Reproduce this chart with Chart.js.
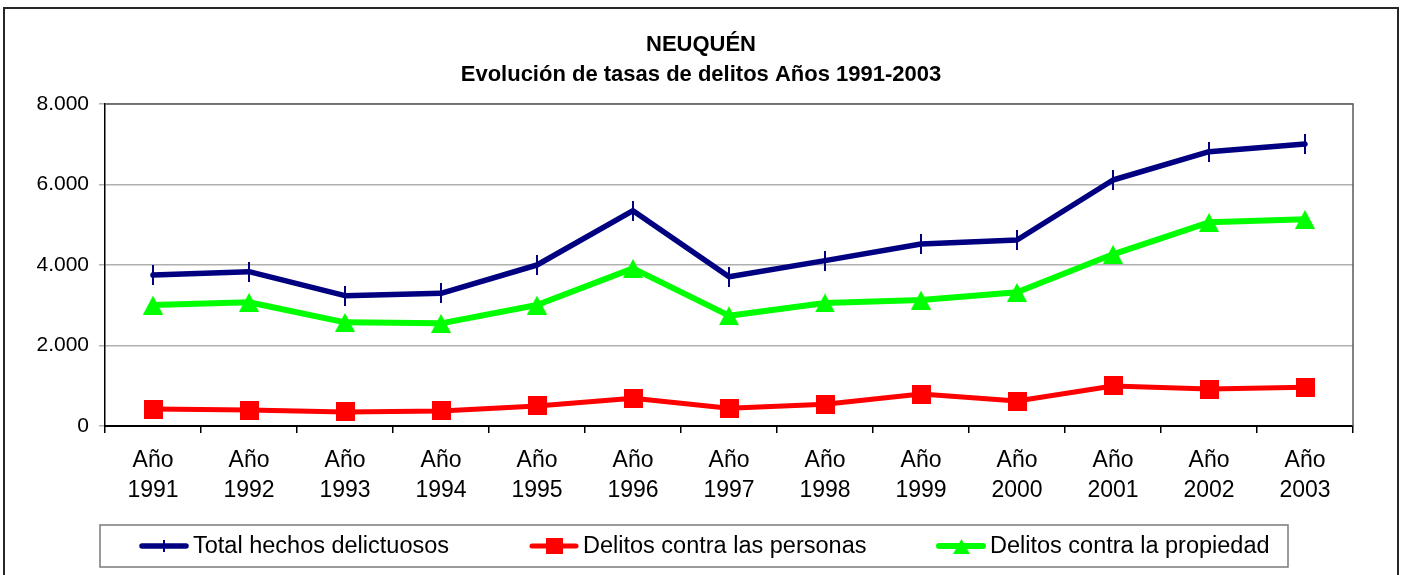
<!DOCTYPE html>
<html lang="es">
<head>
<meta charset="utf-8">
<title>Neuquén – Evolución de tasas de delitos</title>
<script src="https://cdn.jsdelivr.net/npm/chart.js@4.4.1/dist/chart.umd.min.js"></script>
<style>
  html, body { margin: 0; padding: 0; background: #ffffff; }
  #wrap { width: 1401px; height: 575px; position: relative; }
</style>
</head>
<body>
<div id="wrap"><canvas id="chart" width="1401" height="575"></canvas></div>
<script>
// ---- data ----
const years = ['1991', '1992', '1993', '1994', '1995', '1996', '1997', '1998', '1999', '2000', '2001', '2002', '2003'];
const categoryLabels = years.map(y => ['Año', y]);
const totalHechos      = [3750, 3834, 3238, 3296, 4000, 5350, 3710, 4108, 4522, 4621, 6112, 6816, 7006];
const delitosPersonas  = [422, 397, 348, 373, 497, 688, 439, 539, 795, 621, 994, 919, 961];
const delitosPropiedad = [3006, 3073, 2576, 2551, 3006, 3917, 2741, 3056, 3130, 3321, 4265, 5060, 5135];
const yTickLabels = ['0', '2.000', '4.000', '6.000', '8.000'];
const seriesNames = ['Total hechos delictuosos', 'Delitos contra las personas', 'Delitos contra la propiedad'];
const titleLines = ['NEUQUÉN', 'Evolución de tasas de delitos Años 1991-2003'];

const FONT = '"Liberation Sans", Arial, Helvetica, sans-serif';
const NAVY = '#000080', RED = '#ff0000', GREEN = '#00ff00';

// ---- marker images ----
function makeMarker(kind, color, w, h) {
  const c = document.createElement('canvas');
  c.width = w; c.height = h;
  const g = c.getContext('2d');
  g.fillStyle = color;
  if (kind === 'tick') {
    g.fillRect((w - 2) / 2, 0, 2, h);
  } else if (kind === 'square') {
    g.fillRect(0, 0, w, h);
  } else if (kind === 'triangle') {
    g.beginPath();
    g.moveTo(w / 2, 0);
    g.lineTo(w, h);
    g.lineTo(0, h);
    g.closePath();
    g.fill();
  }
  return c;
}

const markers = [
  makeMarker('tick', NAVY, 4, 20),
  makeMarker('square', RED, 19, 19),
  makeMarker('triangle', GREEN, 20, 19)
];
const legendMarkers = [
  makeMarker('tick', NAVY, 4, 12),
  makeMarker('square', RED, 17, 16),
  makeMarker('triangle', GREEN, 17, 15)
];

// ---- plugins: background/frame, title, plot border, legend ----
const framePlugin = {
  id: 'frame',
  beforeDraw(chart) {
    const ctx = chart.ctx;
    ctx.save();
    ctx.fillStyle = '#ffffff';
    ctx.fillRect(0, 0, chart.width, chart.height);
    ctx.strokeStyle = '#262626';
    ctx.lineWidth = 2;
    ctx.strokeRect(4, 8, 1394, 620);
    ctx.restore();
  },
  beforeDatasetsDraw(chart) {
    const { ctx, chartArea: a } = chart;
    ctx.save();
    ctx.strokeStyle = '#5a5a5a';
    ctx.lineWidth = 1.5;
    ctx.beginPath();
    ctx.moveTo(a.left, a.top);
    ctx.lineTo(a.right, a.top);
    ctx.lineTo(a.right, a.bottom);
    ctx.stroke();
    ctx.restore();
  }
};

const titlePlugin = {
  id: 'twoLineTitle',
  afterDraw(chart) {
    const ctx = chart.ctx;
    ctx.save();
    ctx.font = 'bold 22px ' + FONT;
    ctx.fillStyle = '#000000';
    ctx.textAlign = 'center';
    ctx.textBaseline = 'middle';
    const cx = 701;
    titleLines.forEach((t, i) => ctx.fillText(t, cx, 45 + i * 30));
    ctx.restore();
  }
};

const legendPlugin = {
  id: 'boxLegend',
  afterDraw(chart) {
    const ctx = chart.ctx;
    const box = { left: 100, top: 525, right: 1288, bottom: 567 };
    const itemStarts = [140, 530, 937];
    const cy = (box.top + box.bottom) / 2;
    const sample = 48, gapText = 5;
    ctx.save();
    ctx.strokeStyle = '#7a7a7a';
    ctx.lineWidth = 1.5;
    ctx.strokeRect(box.left, box.top, box.right - box.left, box.bottom - box.top);
    ctx.font = '23.5px ' + FONT;
    chart.data.datasets.forEach((d, i) => {
      const x = itemStarts[i];
      ctx.strokeStyle = d.borderColor;
      ctx.lineWidth = d.borderWidth;
      ctx.lineCap = 'round';
      ctx.beginPath();
      ctx.moveTo(x + 2, cy);
      ctx.lineTo(x + sample - 2, cy);
      ctx.stroke();
      const m = legendMarkers[i];
      ctx.drawImage(m, Math.round(x + sample / 2 - m.width / 2), Math.round(cy - m.height / 2));
      ctx.fillStyle = '#000000';
      ctx.textBaseline = 'middle';
      ctx.textAlign = 'left';
      ctx.fillText(d.label, x + sample + gapText, cy + 1);
    });
    ctx.restore();
  }
};

function lineDataset(label, data, color, marker, width) {
  return {
    label, data,
    borderColor: color,
    backgroundColor: color,
    borderWidth: width,
    borderJoinStyle: 'round',
    borderCapStyle: 'round',
    pointStyle: marker,
    pointRadius: 9,
    pointHoverRadius: 9,
    tension: 0,
    fill: false
  };
}

new Chart(document.getElementById('chart'), {
  type: 'line',
  data: {
    labels: categoryLabels,
    datasets: [
      lineDataset(seriesNames[0], totalHechos, NAVY, markers[0], 5.5),
      lineDataset(seriesNames[1], delitosPersonas, RED, markers[1], 5),
      lineDataset(seriesNames[2], delitosPropiedad, GREEN, markers[2], 6)
    ]
  },
  options: {
    responsive: false,
    animation: false,
    events: [],
    layout: { padding: { left: 0, right: 48, top: 104, bottom: 0 } },
    plugins: {
      legend: { display: false },
      tooltip: { enabled: false },
      title: { display: false }
    },
    scales: {
      x: {
        type: 'category',
        offset: true,
        grid: { offset: true, drawOnChartArea: false, drawTicks: true, tickLength: 7, color: '#000000', lineWidth: 1.5 },
        border: { color: '#000000', width: 2 },
        ticks: {
          color: '#000000',
          font: { family: FONT, size: 23, lineHeight: 30 / 23 },
          padding: 13,
          maxRotation: 0,
          autoSkip: false
        },
        afterFit(scale) { scale.height = 149; }
      },
      y: {
        min: 0,
        max: 8000,
        grid: { color: '#b0b0b0', lineWidth: 1.5, tickLength: 6, drawTicks: true },
        border: { color: '#000000', width: 1.5 },
        ticks: {
          stepSize: 2000,
          color: '#000000',
          font: { family: FONT, size: 21 },
          padding: 10,
          callback: (v, i) => yTickLabels[i]
        },
        afterFit(scale) { scale.width = 105; }
      }
    }
  },
  plugins: [framePlugin, titlePlugin, legendPlugin]
});
</script>
</body>
</html>
